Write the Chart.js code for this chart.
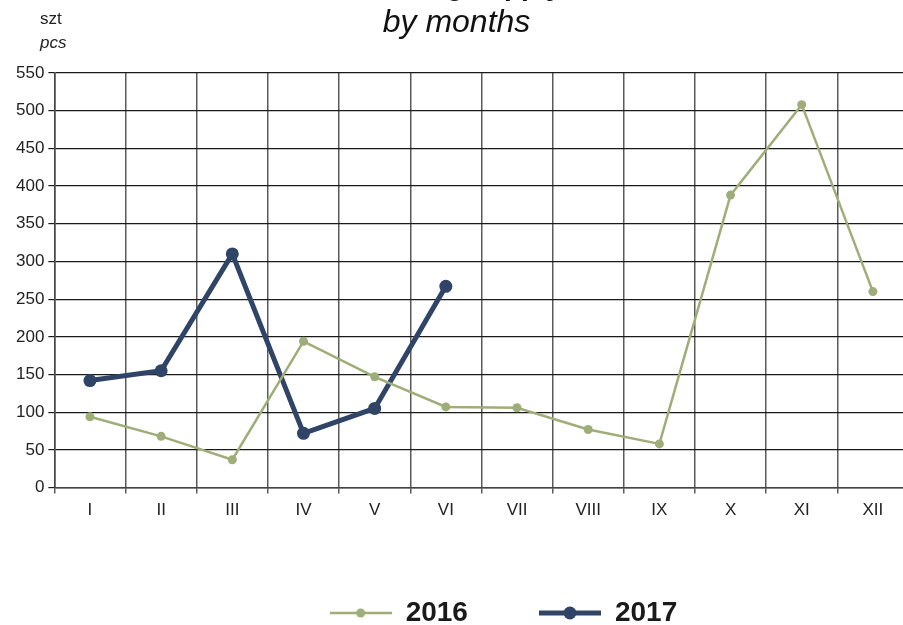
<!DOCTYPE html>
<html lang="en">
<head>
    <meta charset="UTF-8">
    <title>Housing supply by months</title>
    <style>
        body {
            margin: 0;
            background: #fff;
            overflow: hidden;
            font-family: "Liberation Sans", Arial, sans-serif;
        }
        #wrap {
            position: relative;
            width: 903px;
            height: 625px;
            overflow: hidden;
        }
        #box {
            position: absolute;
            left: 0;
            top: -32px;
            width: 915px;
            height: 690px;
        }
        .unit {
            position: absolute;
            left: 40px;
            font-size: 17px;
            color: #222;
        }
    </style>
</head>
<body>
    <div id="wrap">
        <div id="box"><canvas id="supplyChart" width="915" height="690"></canvas></div>
        <div class="unit" style="top:9px">szt</div>
        <div class="unit" style="top:33px; font-style:italic">pcs</div>
    </div>

    <script src="https://cdn.jsdelivr.net/npm/chart.js"></script>
    <script>
        const months = ['I', 'II', 'III', 'IV', 'V', 'VI', 'VII', 'VIII', 'IX', 'X', 'XI', 'XII'];
        const values2016 = [94, 68, 37, 194, 147, 107, 106, 77, 58, 388, 508, 260];
        const values2017 = [142, 155, 310, 72, 105, 267];

        const green = '#9fad78';
        const navy = '#2f4467';

        // legend symbol: short line with a dot in the middle
        function legendMark(color, lineW, r) {
            const c = document.createElement('canvas');
            c.width = 62;
            c.height = 16;
            const g = c.getContext('2d');
            g.strokeStyle = color;
            g.lineWidth = lineW;
            g.beginPath();
            g.moveTo(0, 8);
            g.lineTo(62, 8);
            g.stroke();
            g.fillStyle = color;
            g.beginPath();
            g.arc(31, 8, r, 0, Math.PI * 2);
            g.fill();
            return c;
        }
        const marks = [legendMark(green, 2.5, 4.5), legendMark(navy, 5, 6.5)];

        // nudge title block and legend sideways to sit like the original
        const nudge = {
            id: 'nudge',
            afterLayout(chart) {
                chart.boxes
                    .filter(b => b.position === 'top' && b.options && 'text' in b.options)
                    .forEach(b => { b.left -= 7; b.right -= 7; });
                chart.legend.left += 22;
                chart.legend.right += 22;
            }
        };

        Chart.defaults.font.family = '"Liberation Sans", Arial, sans-serif';
        Chart.defaults.color = '#222';

        const ctx = document.getElementById('supplyChart').getContext('2d');
        new Chart(ctx, {
            type: 'line',
            data: {
                labels: months,
                datasets: [
                    {
                        label: '2016',
                        data: values2016,
                        borderColor: green,
                        backgroundColor: green,
                        borderWidth: 2.5,
                        pointRadius: 4.5,
                        pointBorderWidth: 0,
                        tension: 0
                    },
                    {
                        label: '2017',
                        data: values2017,
                        borderColor: navy,
                        backgroundColor: navy,
                        borderWidth: 5,
                        pointRadius: 6.5,
                        pointBorderWidth: 0,
                        tension: 0
                    }
                ]
            },
            plugins: [nudge],
            options: {
                responsive: false,
                animation: false,
                layout: { padding: { left: 12, right: 0, bottom: 21 } },
                plugins: {
                    title: {
                        display: true,
                        text: 'Housing supply',
                        font: { size: 28, weight: 'bold' },
                        color: '#111',
                        padding: { top: 2, bottom: 0 }
                    },
                    subtitle: {
                        display: true,
                        text: 'by months',
                        font: { size: 32, style: 'italic' },
                        color: '#111',
                        padding: { top: 0, bottom: 31 }
                    },
                    legend: {
                        position: 'bottom',
                        fullSize: false,
                        labels: {
                            usePointStyle: true,
                            pointStyleWidth: 62,
                            padding: 71,
                            color: '#1a1a1a',
                            font: { size: 28, weight: 'bold' },
                            generateLabels(chart) {
                                const items = Chart.defaults.plugins.legend.labels.generateLabels(chart);
                                items.forEach((it, i) => { it.pointStyle = marks[i]; });
                                return items;
                            }
                        }
                    },
                    tooltip: { enabled: false }
                },
                scales: {
                    x: {
                        offset: true,
                        grid: {
                            offset: true,
                            color: '#5a5a5a',
                            lineWidth: 1.5,
                            tickLength: 6
                        },
                        border: { color: '#444', width: 1.5 },
                        ticks: { font: { size: 17 }, padding: 7, maxRotation: 0 }
                    },
                    y: {
                        min: 0,
                        max: 550,
                        ticks: { stepSize: 50, font: { size: 17 }, padding: 4 },
                        grid: {
                            color: '#1a1a1a',
                            lineWidth: 1.2,
                            tickLength: 6
                        },
                        border: { color: '#444', width: 1.5 }
                    }
                }
            }
        });
    </script>
</body>
</html>
